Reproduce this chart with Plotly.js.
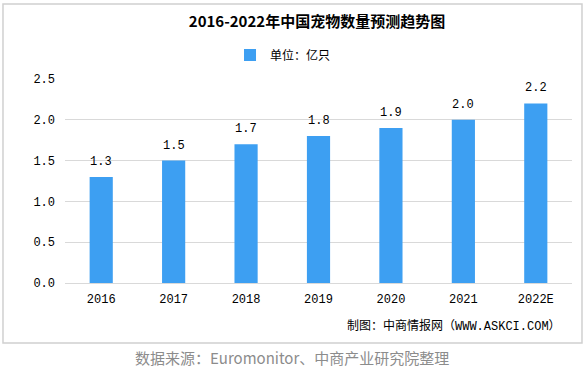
<!DOCTYPE html>
<html>
<head>
<meta charset="utf-8">
<script src="https://cdn.plot.ly/plotly-3.0.1.min.js"></script>
<style>
html,body{margin:0;padding:0;background:#fff;}
#chart{width:588px;height:370px;}
</style>
</head>
<body>
<div id="chart"></div>
<script>
var categories = ["2016", "2017", "2018", "2019", "2020", "2021", "2022E"];
var values = [1.3, 1.5, 1.7, 1.8, 1.9, 2.0, 2.2];
var valueLabels = ["1.3", "1.5", "1.7", "1.8", "1.9", "2.0", "2.2"];
var yTicks = [0, 0.5, 1.0, 1.5, 2.0, 2.5];
var yTickLabels = ["0.0", "0.5", "1.0", "1.5", "2.0", "2.5"];
var seriesName = "单位：亿只";
var titleText = "2016-2022年中国宠物数量预测趋势图";
var creditText = "制图：中商情报网（WWW.ASKCI.COM）";
var sourceText = "数据来源：Euromonitor、中商产业研究院整理";

var mono = "'Liberation Mono', 'Noto Sans CJK SC', monospace";
var cjk = "'Noto Sans CJK SC', sans-serif";

var trace = {
  type: "bar",
  x: categories,
  y: values,
  name: seriesName,
  marker: {color: "#3d9ff2"},
  hoverinfo: "x+y"
};

// value labels placed on the category axis by category index
var annotations = categories.map(function (c, i) {
  return {
    x: i, y: values[i], xref: "x", yref: "y",
    text: valueLabels[i],
    showarrow: false,
    yanchor: "middle",
    yshift: 15,
    font: {family: mono, size: 12, color: "#000"}
  };
});

annotations.push({
  text: creditText,
  xref: "paper", yref: "paper",
  x: (563 - 65) / 507, xanchor: "right",
  y: (283 - 326) / 204, yanchor: "middle",
  showarrow: false,
  font: {family: mono, size: 12, color: "#000"}
});
annotations.push({
  text: sourceText,
  xref: "paper", yref: "paper",
  x: (292 - 65) / 507, xanchor: "center",
  y: (283 - 357) / 204, yanchor: "middle",
  showarrow: false,
  font: {family: cjk, size: 15, color: "#8c8c8c"}
});

var layout = {
  width: 588,
  height: 370,
  paper_bgcolor: "#fff",
  plot_bgcolor: "#fff",
  margin: {l: 65, r: 16, t: 79, b: 87, pad: 0},
  bargap: 0.68,
  showlegend: true,
  title: {
    text: "<b>" + titleText + "</b>",
    font: {family: cjk, size: 15, color: "#000"},
    x: 0.497, xanchor: "center", xref: "paper",
    y: 0.94, yanchor: "middle", yref: "container"
  },
  legend: {
    orientation: "h",
    x: 0.43, xanchor: "center",
    y: 1.118, yanchor: "middle",
    font: {family: cjk, size: 12, color: "#000"},
    itemwidth: 30
  },
  xaxis: {
    type: "category",
    categoryarray: categories,
    tickfont: {family: mono, size: 12, color: "#000"},
    showgrid: false,
    showline: true,
    linecolor: "#d9d9d9",
    linewidth: 1,
    ticks: "",
    ticklabelstandoff: 5,
    zeroline: false
  },
  yaxis: {
    range: [0, 2.5],
    tickvals: yTicks,
    ticktext: yTickLabels,
    tickfont: {family: mono, size: 12, color: "#000"},
    showgrid: true,
    gridcolor: "#d9d9d9",
    gridwidth: 1,
    zeroline: false,
    showline: false,
    ticks: "",
    ticklabelstandoff: 9
  },
  shapes: [{
    type: "rect", xref: "paper", yref: "paper",
    x0: -0.1223, x1: 1.0197, y0: -0.2941, y1: 1.3676,
    line: {color: "#d0d0d0", width: 1.5},
    fillcolor: "rgba(0,0,0,0)",
    layer: "below"
  }],
  annotations: annotations
};

Plotly.newPlot("chart", [trace], layout, {displayModeBar: false, staticPlot: true});
</script>
</body>
</html>
